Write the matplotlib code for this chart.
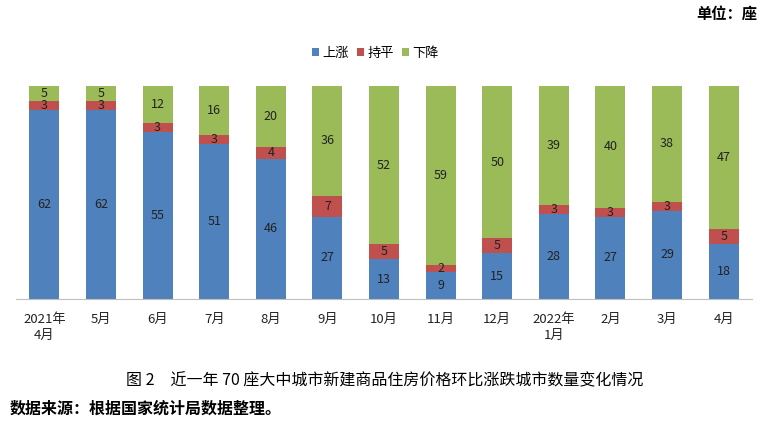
import matplotlib
matplotlib.use("Agg")
import matplotlib.pyplot as plt
import numpy as np

plt.rcParams['font.family'] = ['Noto Sans CJK SC', 'DejaVu Sans']

categories = ["2021年\n4月", "5月", "6月", "7月", "8月", "9月", "10月", "11月", "12月",
              "2022年\n1月", "2月", "3月", "4月"]
up = [62, 62, 55, 51, 46, 27, 13, 9, 15, 28, 27, 29, 18]
flat = [3, 3, 3, 3, 4, 7, 5, 2, 5, 3, 3, 3, 5]
down = [5, 5, 12, 16, 20, 36, 52, 59, 50, 39, 40, 38, 47]
series_names = ["上涨", "持平", "下降"]
colors = ["#4F81BD", "#C0504D", "#9BBB59"]

fig = plt.figure(figsize=(7.65, 4.24), dpi=100)
ax = fig.add_axes([0.021, 0.295, 0.962, 0.502])

x = np.arange(len(categories))
w = 0.53
bottom = np.zeros(len(categories))
for vals, name, c in zip([up, flat, down], series_names, colors):
    vals = np.array(vals, dtype=float)
    ax.bar(x, vals, w, bottom=bottom, color=c, label=name)
    for xi, b, v in zip(x, bottom, vals):
        ax.text(xi, b + v / 2, f"{int(v)}", ha="center", va="center", fontsize=9, color="#222222")
    bottom += vals

ax.set_xlim(-0.5, len(categories) - 0.5)
ax.set_ylim(0, 70)
ax.set_yticks([])
for s in ["top", "right", "left"]:
    ax.spines[s].set_visible(False)
ax.spines["bottom"].set_color("#BFBFBF")
ax.set_xticks(x)
ax.set_xticklabels(categories, fontsize=9.5, color="#222222", linespacing=1.3)
ax.tick_params(axis="x", length=0, pad=10)

fig.legend(loc="center", bbox_to_anchor=(0.491, 0.875), ncol=3, frameon=False,
           fontsize=9.5, handlelength=0.55, handleheight=0.6, handletextpad=0.25,
           columnspacing=0.6)

fig.text(0.99, 0.968, "单位：座", ha="right", va="center", fontsize=11, fontweight="bold")
fig.text(0.503, 0.101, "图 2　近一年 70 座大中城市新建商品住房价格环比涨跌城市数量变化情况",
         ha="center", va="center", fontsize=11.5)
fig.text(0.013, 0.037, "数据来源：根据国家统计局数据整理。", ha="left", va="center",
         fontsize=11.5, fontweight="bold")

fig.savefig("out.png", dpi=100)
